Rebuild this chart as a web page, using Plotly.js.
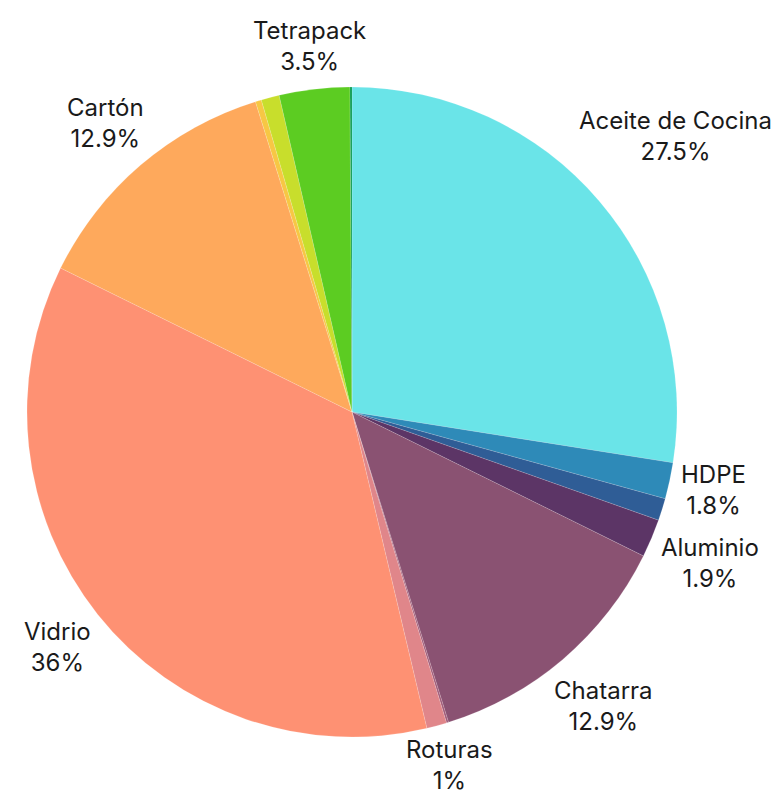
<!DOCTYPE html>
<html>
<head>
<meta charset="utf-8">
<script src="https://cdn.plot.ly/plotly-3.0.1.min.js"></script>
<style>html,body{margin:0;padding:0;background:#fff;}#chart{width:784px;height:798px;}</style>
</head>
<body>
<div id="chart"></div>
<script>
const labels = ["Aceite de Cocina", "HDPE", "Otro 1", "Aluminio", "Chatarra", "Otro 2", "Roturas", "Vidrio", "Cartón", "Otro 3", "Otro 4", "Tetrapack", "Otro 5"];
const values = [27.5, 1.8, 1.1, 1.9, 12.9, 0.1, 1.0, 36.0, 12.9, 0.3, 0.9, 3.5, 0.1];
const showText = [true, true, false, true, true, false, true, true, true, false, false, true, false];
const colors = ["#6ae4e8", "#2e8ab8", "#2f5d96", "#5c3566", "#8a5272", "#a05a78", "#e0868a", "#fe9173", "#fea95c", "#f7c744", "#c8de2c", "#5ccc22", "#0a9a50"];

const W = 784, H = 798;
const margin = {l: 27, r: 107, t: 87, b: 61};
const fontSize = 24;
const fontFamily = "Inter, sans-serif";
const gap = 7;

const plotW = W - margin.l - margin.r;
const plotH = H - margin.t - margin.b;
const radius = Math.min(plotW, plotH) / 2;
const cx = margin.l + plotW / 2;
const cy = margin.t + plotH / 2;

const ctx = document.createElement("canvas").getContext("2d");
ctx.font = fontSize + "px " + fontFamily;

function fmtPct(p) {
  return parseFloat(p.toPrecision(3)).toString() + "%";
}

const total = values.reduce((a, b) => a + b, 0);
const annotations = [];
let cum = 0;
values.forEach((v, i) => {
  const mid = (cum + v / 2) / total * 2 * Math.PI;
  cum += v;
  if (!showText[i]) return;
  const line1 = labels[i];
  const line2 = fmtPct(v / total * 100);
  const w = Math.max(ctx.measureText(line1).width, ctx.measureText(line2).width);
  const h = 2 * fontSize * 1.25;
  const ux = Math.sin(mid), uy = Math.cos(mid);
  const d = radius + gap + Math.abs(ux) * w / 2 + Math.abs(uy) * h / 2;
  let px = cx + d * ux;
  let py = cy - d * uy;
  const boxH = 2 * fontSize * 1.3 + 4;
  const boxW = w + 4;
  py = Math.min(Math.max(py, boxH / 2), H - boxH / 2);
  px = Math.min(Math.max(px, boxW / 2), W - boxW / 2);
  annotations.push({
    xref: "paper", yref: "paper",
    x: (px - margin.l) / plotW,
    y: 1 - (py - margin.t) / plotH,
    xanchor: "center", yanchor: "middle",
    text: line1 + "<br>" + line2,
    showarrow: false,
    align: "center",
    borderpad: 0,
    font: {family: fontFamily, size: fontSize, color: "#1a1a1a"}
  });
});

const data = [{
  type: "pie",
  labels: labels,
  values: values,
  sort: false,
  direction: "clockwise",
  rotation: 0,
  marker: {colors: colors, line: {color: "rgba(255,255,255,0.3)", width: 0.5}},
  textinfo: "none",
  showlegend: false,
  hoverinfo: "label+percent"
}];
const layout = {
  width: W, height: H,
  margin: margin,
  paper_bgcolor: "#ffffff",
  showlegend: false,
  annotations: annotations
};
Plotly.newPlot("chart", data, layout, {displayModeBar: false});
</script>
</body>
</html>
